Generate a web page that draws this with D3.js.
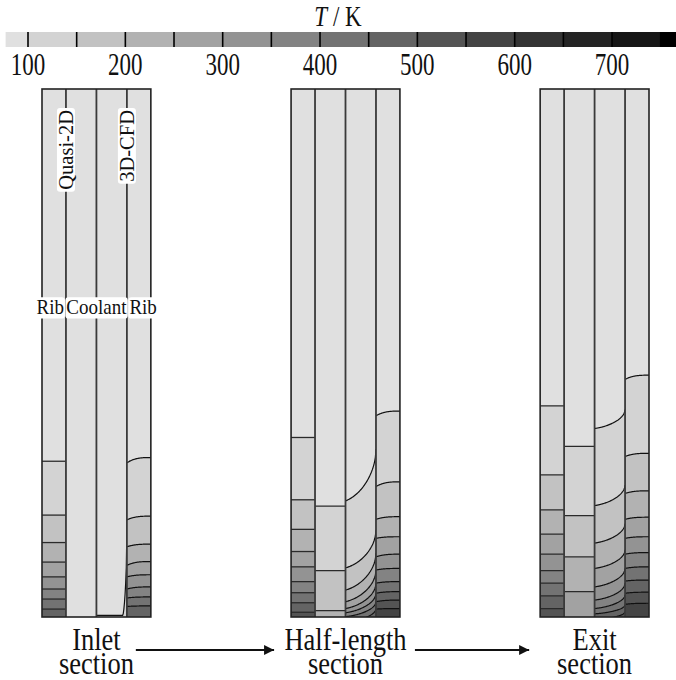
<!DOCTYPE html>
<html><head><meta charset="utf-8">
<script src="https://cdn.jsdelivr.net/npm/d3@7"></script>
<style>body{margin:0;background:#fff}svg{display:block}</style>
</head><body><svg id="c" width="676" height="680"></svg>
<script>
// ---------------- data ----------------
const levelColors = ["#e0e0e0","#d3d3d3","#c2c2c2","#b2b2b2","#a2a2a2","#939393","#838383","#737373","#646464","#545454","#444444","#343434","#242424","#161616","#000000"];
const levelBreaks = [100,150,200,250,300,350,400,450,500,550,600,650,700,750];
const tickLabels = [100,200,300,400,500,600,700];
const tRange = [77, 766];
const sections = ["Inlet", "Half-length", "Exit"];
const columns = ["Rib", "Coolant", "Coolant", "Rib"];
// contour heights, % of panel height from the bottom (one entry per 50 K level)
const quasiRib = [
  [29.5, 19.3, 14.1, 10.4, 7.6, 5.3, 3.4, 1.5],
  [34.0, 22.2, 16.6, 12.4, 9.5, 6.7, 4.6, 2.7, 0.9],
  [40.0, 26.9, 20.3, 15.7, 11.9, 8.8, 6.4, 4.0, 1.6]
];
const quasiCoolant = [
  [],
  [21.0, 8.8, 1.2],
  [32.3, 19.2, 11.4, 4.8]
];
// 3D-CFD coolant: height at the quasi side (core) and at the rib wall
const cfdCoolantCore = [
  [0.3],
  [22.0, 9.3, 5.1, 2.9, 1.6, 0.8, 0.06, -1.0],
  [35.7, 21.1, 14.0, 9.2, 5.7, 3.2, 1.6, 0.6, -0.5]
];
const cfdCoolantWall = [
  [16.9],
  [31.8, 16.5, 12.1, 8.9, 6.4, 4.5, 2.9, 1.6],
  [39.3, 25.0, 17.7, 12.7, 9.2, 6.4, 4.2, 2.3, 1.0]
];
// 3D-CFD rib: height at the coolant wall and at the outer edge
const cfdRibInner = [
  [29.2, 18.4, 13.3, 9.8, 7.6, 5.3, 3.6, 2.0],
  [38.1, 24.7, 18.5, 14.9, 11.4, 8.9, 6.4, 4.5, 2.9, 1.5],
  [45.0, 30.4, 23.4, 18.5, 14.9, 11.9, 9.2, 6.8, 4.5, 2.4]
];
const cfdRibOuter = [
  [30.2, 19.1, 13.8, 10.5, 8.0, 5.7, 3.8, 2.1],
  [39.0, 25.6, 19.0, 15.2, 11.9, 9.2, 6.7, 4.8, 3.2, 1.6],
  [45.8, 31.0, 23.9, 18.9, 15.2, 12.2, 9.5, 7.0, 4.7, 2.6]
];
const coolantCurveSpan = [0.13, 1, 1];

// ---------------- layout ----------------
const svg = d3.select("#c");
const serif = "'Liberation Serif','DejaVu Serif',serif";
const defs = svg.append("defs");

// colour bar
const cx = d3.scaleLinear().domain([100, 750]).range([28, 660.7]);
const cbTop = 32, cbH = 15;
const edges = [tRange[0], ...levelBreaks, tRange[1]];
const cb = svg.append("g");
cb.selectAll("rect").data(d3.range(edges.length - 1)).join("rect")
  .attr("x", i => cx(edges[i])).attr("y", cbTop)
  .attr("width", i => cx(edges[i+1]) - cx(edges[i]) + 0.5).attr("height", cbH)
  .attr("fill", i => levelColors[i]);
cb.selectAll("line").data(levelBreaks).join("line")
  .attr("x1", d => cx(d)).attr("x2", d => cx(d))
  .attr("y1", cbTop).attr("y2", cbTop + cbH)
  .attr("stroke", "#000").attr("stroke-width", 1.6);
cb.selectAll("text").data(tickLabels).join("text")
  .attr("transform", d => `translate(${cx(d)},75) scale(1,1.38)`)
  .attr("text-anchor", "middle").attr("font-family", serif).attr("font-size", 23)
  .attr("fill", "#111").text(d => d);
const title = svg.append("text").attr("transform", "translate(338,26) scale(1,1.3)")
  .attr("text-anchor", "middle").attr("font-family", serif).attr("font-size", 23).attr("fill", "#111");
title.append("tspan").attr("font-style", "italic").text("T");
title.append("tspan").text(" / K");

// panels
const px = d3.scaleBand().domain(sections).range([42, 649]).paddingInner(0.563).paddingOuter(0);
const colFrac = [0, 0.22, 0.5, 0.78, 1];
const y = d3.scaleLinear().domain([0, 100]).range([617, 89]);
const line = d3.line().x(d => d[0]).y(d => d[1]);
const samples = d3.range(0, 1.0001, 0.02);

function coolantShape(s, span) {
  const t = Math.max(0, (s - (1 - span)) / span);
  return 0.22 * t + 0.78 * (1 - Math.sqrt(Math.max(0, 1 - t * t)));
}
function ribShape(s) { return 1 - Math.pow(1 - s, 3); }

sections.forEach((sec, p) => {
  const x0 = px(sec), w = px.bandwidth();
  const cxs = colFrac.map(f => x0 + f * w);
  const g = svg.append("g");
  for (let c = 0; c < 4; c++) {
    defs.append("clipPath").attr("id", `clip${p}_${c}`).append("rect")
      .attr("x", cxs[c]).attr("y", y(100)).attr("width", cxs[c+1] - cxs[c]).attr("height", y(0) - y(100));
  }
  // Quasi-2D columns: horizontal bands
  [[quasiRib[p], 0], [quasiCoolant[p], 1]].forEach(([hs, c]) => {
    const cg = g.append("g").attr("clip-path", `url(#clip${p}_${c})`);
    cg.append("rect").attr("x", cxs[c]).attr("y", y(100)).attr("width", cxs[c+1]-cxs[c]).attr("height", y(0)-y(100)).attr("fill", levelColors[0]);
    cg.selectAll("rect.b").data(hs).join("rect").attr("class", "b")
      .attr("x", cxs[c]).attr("y", d => y(d)).attr("width", cxs[c+1]-cxs[c]).attr("height", d => y(0) - y(d))
      .attr("fill", (d, i) => levelColors[i+1]);
    cg.selectAll("line").data(hs).join("line")
      .attr("x1", cxs[c]).attr("x2", cxs[c+1]).attr("y1", d => y(d)).attr("y2", d => y(d))
      .attr("stroke", "#2a2a2a").attr("stroke-width", 1.3);
  });
  // 3D-CFD coolant
  {
    const c = 2, xa = cxs[2], xb = cxs[3];
    const cg = g.append("g").attr("clip-path", `url(#clip${p}_${c})`);
    cg.append("rect").attr("x", xa).attr("y", y(100)).attr("width", xb-xa).attr("height", y(0)-y(100)).attr("fill", levelColors[0]);
    const curves = cfdCoolantCore[p].map((hL, i) => {
      const hW = cfdCoolantWall[p][i];
      return samples.map(s => [xa + s * (xb - xa), y(hL + (hW - hL) * coolantShape(s, coolantCurveSpan[p]))]);
    });
    cg.selectAll("path.f").data(curves).join("path").attr("class", "f")
      .attr("d", d => line(d) + `L${xb},${y(-5)}L${xa},${y(-5)}Z`)
      .attr("fill", (d, i) => levelColors[i+1]);
    cg.selectAll("path.l").data(curves).join("path").attr("class", "l")
      .attr("d", line).attr("fill", "none").attr("stroke", "#111").attr("stroke-width", 1.2);
  }
  // 3D-CFD rib
  {
    const c = 3, xa = cxs[3], xb = cxs[4];
    const cg = g.append("g").attr("clip-path", `url(#clip${p}_${c})`);
    cg.append("rect").attr("x", xa).attr("y", y(100)).attr("width", xb-xa).attr("height", y(0)-y(100)).attr("fill", levelColors[0]);
    const curves = cfdRibInner[p].map((hI, i) => {
      const hO = cfdRibOuter[p][i];
      return samples.map(s => [xa + s * (xb - xa), y(hI + (hO - hI) * ribShape(s))]);
    });
    cg.selectAll("path.f").data(curves).join("path").attr("class", "f")
      .attr("d", d => line(d) + `L${xb},${y(-5)}L${xa},${y(-5)}Z`)
      .attr("fill", (d, i) => levelColors[i+1]);
    cg.selectAll("path.l").data(curves).join("path").attr("class", "l")
      .attr("d", line).attr("fill", "none").attr("stroke", "#111").attr("stroke-width", 1.2);
  }
  // dividers and frame
  g.selectAll("line.div").data(cxs.slice(1, 4)).join("line").attr("class", "div")
    .attr("x1", d => d).attr("x2", d => d).attr("y1", y(100)).attr("y2", y(0))
    .attr("stroke", "#3a3a3a").attr("stroke-width", 1.8);
  g.append("rect").attr("x", x0).attr("y", y(100)).attr("width", w).attr("height", y(0) - y(100))
    .attr("fill", "none").attr("stroke", "#222").attr("stroke-width", 1.6);

  // section label (two lines in one text element)
  const lt = svg.append("text").attr("font-family", serif).attr("font-size", 26.5).attr("fill", "#111")
    .attr("text-anchor", "middle").attr("transform", `translate(${x0 + w/2},650) scale(1,1.22)`);
  lt.append("tspan").attr("x", 0).attr("y", 0).text(sec);
  lt.append("tspan").attr("x", 0).attr("y", 24 / 1.22).text("section");

  // annotations on first panel
  if (p === 0) {
    const ag = svg.append("g").attr("font-family", serif).attr("fill", "#111");
    const vert = [["Quasi-2D", cxs[1]], ["3D-CFD", cxs[3]]];
    vert.forEach(([t, xx]) => {
      const tg = ag.append("g").attr("transform", `translate(${xx},108) rotate(-90)`).attr("font-size", 20.5);
      const txt = tg.append("text").attr("text-anchor", "end").attr("x", -2).attr("y", 7).text(t);
      const bb = txt.node().getBBox();
      tg.insert("rect", "text").attr("x", bb.x - 2).attr("y", -9).attr("width", bb.width + 4).attr("height", 18)
        .attr("rx", 3).attr("fill", "#fff");
    });
    const horiz = [["Rib", cxs[1] - 2, "end"], ["Coolant", cxs[2], "middle"], ["Rib", cxs[3] + 2.5, "start"]];
    horiz.forEach(([t, xx, anchor]) => {
      const tg = ag.append("g").attr("transform", `translate(${xx},314) scale(1,1.15)`).attr("font-size", 19);
      const txt = tg.append("text").attr("text-anchor", anchor).text(t);
      const bb = txt.node().getBBox();
      tg.insert("rect", "text").attr("x", bb.x - 1).attr("y", -14.5).attr("width", bb.width + 2).attr("height", 18.5)
        .attr("rx", 3).attr("fill", "#fff");
    });
  }
});

// arrows between sections
defs.append("marker").attr("id", "ah").attr("viewBox", "0 0 10 10").attr("refX", 10).attr("refY", 5)
  .attr("markerWidth", 18).attr("markerHeight", 10).attr("markerUnits", "userSpaceOnUse").attr("orient", "auto")
  .append("path").attr("d", "M0,0L10,5L0,10Z").attr("fill", "#111");
const arrows = [[0, 1], [1, 2]];
svg.selectAll("line.arrow").data(arrows).join("line").attr("class", "arrow")
  .attr("x1", d => px(sections[d[0]]) + px.bandwidth() + (d[0] === 0 ? -15 : 15))
  .attr("x2", d => px(sections[d[1]]) - (d[1] === 1 ? 17 : 11))
  .attr("y1", 650).attr("y2", 650)
  .attr("stroke", "#111").attr("stroke-width", 1.8).attr("marker-end", "url(#ah)");
</script></body></html>
